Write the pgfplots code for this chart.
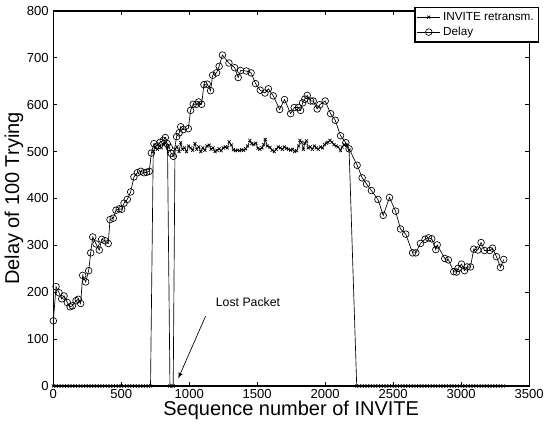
\documentclass[border=0pt]{standalone}
\usepackage{pgfplots}
\pgfplotsset{compat=1.18}
\usepackage{fontspec}
\setmainfont{Liberation Sans}

\pgfplotstableread{
x y
0 139
20 212
42 199
62 186
79 192
103 178
123 169
140 171
167 182
184 185
201 176
216 236
238 222
260 246
275 284
290 318
314 303
338 290
356 313
380 310
404 304
417 355
441 358
461 375
485 378
503 377
520 390
544 398
569 414
593 446
618 455
643 458
667 455
687 456
706 458
721 497
740 517
765 512
785 520
809 524
824 530
838 517
853 509
868 496
883 490
907 532
926 540
937 553
956 547
993 549
1010 588
1029 601
1054 601
1069 606
1091 601
1108 643
1132 644
1157 630
1172 663
1201 668
1220 682
1244 706
1292 689
1334 679
1360 658
1378 673
1420 672
1455 668
1488 645
1522 631
1557 625
1582 634
1618 619
1665 590
1701 611
1746 581
1772 594
1802 594
1819 588
1834 604
1850 612
1868 620
1893 608
1912 608
1941 591
1960 600
2000 608
2040 581
2074 567
2113 534
2152 519
2176 506
2235 471
2272 444
2304 431
2340 417
2388 398
2427 364
2473 402
2518 373
2554 335
2593 324
2643 284
2667 284
2701 304
2735 313
2760 316
2784 314
2814 291
2824 301
2880 272
2907 269
2946 244
2966 243
2978 251
3003 260
3025 246
3044 254
3069 254
3093 292
3123 290
3147 306
3172 289
3211 289
3231 294
3260 276
3290 253
3314 270
}\delaytab

\pgfplotstableread{
x y
0 0
20 0
40 0
60 0
80 0
100 0
120 0
140 0
160 0
180 0
200 0
220 0
240 0
260 0
280 0
300 0
320 0
340 0
360 0
380 0
400 0
420 0
440 0
460 0
480 0
500 0
520 0
540 0
560 0
580 0
600 0
620 0
640 0
660 0
680 0
700 0
715 0
735 500
750 510
765 505
780 512
795 508
810 515
825 518
840 510
858 0
870 0
882 0
895 505
910 510
925 500
937 519
950 505
965 508
980 500
995 512
1010 508
1025 503
1042 517
1055 505
1070 510
1085 500
1100 508
1115 503
1130 512
1147 514
1160 505
1175 508
1190 500
1205 503
1220 506
1235 502
1250 508
1265 510
1280 508
1294 521
1310 514
1325 504
1340 502
1355 503
1370 502
1385 504
1400 503
1415 506
1430 512
1446 524
1460 517
1475 515
1490 518
1505 507
1520 505
1535 508
1548 515
1559 526
1575 512
1594 509
1610 503
1625 500
1640 505
1655 510
1670 508
1685 505
1700 510
1715 507
1730 505
1745 503
1760 505
1775 500
1790 502
1805 512
1814 524
1826 520
1840 505
1850 518
1863 523
1875 508
1890 510
1905 505
1920 512
1935 508
1949 505
1965 510
1980 508
1995 515
2010 518
2020 520
2035 524
2050 520
2065 515
2080 512
2095 510
2113 502
2125 510
2140 515
2157 514
2176 503
2232 0
2250 0
2270 0
2290 0
2310 0
2330 0
2350 0
2370 0
2390 0
2410 0
2430 0
2450 0
2470 0
2490 0
2510 0
2530 0
2550 0
2570 0
2590 0
2610 0
2630 0
2650 0
2670 0
2690 0
2710 0
2730 0
2750 0
2770 0
2790 0
2810 0
2830 0
2850 0
2870 0
2890 0
2910 0
2930 0
2950 0
2970 0
2990 0
3010 0
3030 0
3050 0
3070 0
3090 0
3110 0
3130 0
3150 0
3170 0
3190 0
3210 0
3230 0
3250 0
3270 0
3290 0
3310 0
}\retrtab

\begin{document}
\begin{tikzpicture}
\useasboundingbox (-40pt,-29.25pt) rectangle (368pt,289.5pt);
\begin{axis}[
  scale only axis,
  width=356.8pt, height=281.25pt,
  xmin=0, xmax=3500, ymin=0, ymax=800,
  xtick={0,500,...,3500},
  ytick={0,100,...,800},
  tick align=inside,
  major tick length=3pt,
  axis line style={line width=0.8pt},
  tick style={line width=0.6pt, black},
  scaled x ticks=false,
  /pgf/number format/1000 sep={},
  /pgf/number format/assume math mode=true,
  ticklabel style={font=\fontsize{9.8}{11}\selectfont},
  xticklabel style={yshift=1pt},
  xlabel={Sequence number of INVITE},
  ylabel={Delay of 100 Trying},
  every axis x label/.style={at={(axis description cs:0.5,-0.040)}, anchor=north,
    inner sep=0pt, font=\fontsize{15}{17}\selectfont},
  every axis y label/.style={at={(axis description cs:-0.083,0.5)}, rotate=90, anchor=center,
    font=\fontsize{15}{17}\selectfont},
  legend style={at={(1.021,1.011)}, anchor=north east,
    font=\fontsize{8.8}{10}\selectfont, draw=black, line width=0.9pt,
    inner sep=1.5pt, row sep=-0.5pt, cells={anchor=west}},
  legend image code/.code={\draw[line width=0.5pt, mark repeat=2, mark phase=2]
    plot coordinates {(0cm,0cm) (0.3cm,0cm) (0.6cm,0cm)};},
]
\addplot[black, line width=0.5pt, mark=x, mark size=1.6pt,
  mark options={line width=0.5pt}] table {\retrtab};
\addlegendentry{INVITE retransm.}
\addplot[black, line width=0.5pt, mark=o, mark size=2.5pt,
  mark options={line width=0.5pt}] table {\delaytab};
\addlegendentry{Delay}
\node[font=\fontsize{9.2}{10}\selectfont] at (axis cs:1432,179) {Lost Packet};
\draw[-{latex}, line width=0.5pt] (axis cs:1120,149) -- (axis cs:919,16);
\end{axis}
\end{tikzpicture}
\end{document}
